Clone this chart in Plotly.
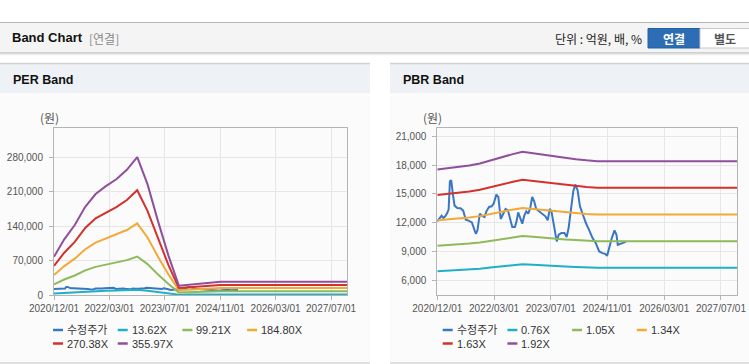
import plotly.graph_objects as go
import pandas as pd

W, H = 749, 364

# ---------------- data ----------------
x_tick_labels = ["2020/12/01", "2022/03/01", "2023/07/01", "2024/11/01", "2026/03/01", "2027/07/01"]
x_start, x_end = "2020-12-01", "2027-12-15"

per_names = ["수정주가", "13.62X", "99.21X", "184.80X", "270.38X", "355.97X"]
pbr_names = ["수정주가", "0.76X", "1.05X", "1.34X", "1.63X", "1.92X"]

per_dates = ["2020-12-01", "2021-03-01", "2021-06-01", "2021-09-01", "2021-12-01", "2022-03-01",
             "2022-06-01", "2022-09-01", "2022-12-01", "2023-03-01", "2023-06-01", "2023-09-01",
             "2023-12-01", "2024-03-01", "2024-06-01", "2024-09-01", "2024-12-01", "2027-12-15"]
per_13_62 = [2977, 4323, 5433, 6850, 7844, 8455, 8992, 9718, 10714, 8609, 5739, 3060, 727, 817, 899, 981, 1035, 1035]
per_99_21 = [21687, 31489, 39575, 49892, 57135, 61590, 65498, 70786, 78038, 62711, 41807, 22293, 5298, 5953, 6548, 7143, 7540, 7540]
per_184_80 = [40397, 58656, 73717, 92936, 106426, 114724, 122005, 131855, 145364, 116812, 77875, 41525, 9868, 11088, 12197, 13306, 14045, 14045]
per_270_38 = [59104, 85818, 107855, 135972, 155711, 167852, 178505, 192916, 212681, 170907, 113938, 60754, 14438, 16223, 17845, 19467, 20549, 20549]
per_355_97 = [77800, 113000, 142000, 179000, 205000, 221000, 235000, 254000, 280000, 225000, 150000, 80000, 19000, 21358, 23494, 25630, 27054, 27054]

pbr_dates = ["2020-12-01", "2021-03-01", "2021-06-01", "2021-09-01", "2021-12-01", "2022-03-01",
             "2022-06-01", "2022-09-01", "2022-12-01", "2023-03-01", "2023-06-01", "2023-09-01",
             "2023-12-01", "2024-03-01", "2024-06-01", "2024-09-01", "2027-12-15"]
pbr_0_76 = [6947, 6994, 7050, 7109, 7196, 7327, 7450, 7573, 7679, 7620, 7537, 7473, 7422, 7374, 7327, 7291, 7291]
pbr_1_05 = [9598, 9663, 9740, 9822, 9942, 10123, 10292, 10462, 10609, 10527, 10413, 10325, 10254, 10188, 10123, 10074, 10074]
pbr_1_34 = [12249, 12332, 12430, 12534, 12688, 12919, 13135, 13352, 13539, 13435, 13289, 13176, 13086, 13002, 12919, 12856, 12856]
pbr_1_63 = [14900, 15001, 15120, 15247, 15434, 15715, 15977, 16241, 16470, 16342, 16165, 16028, 15919, 15816, 15715, 15638, 15638]
pbr_1_92 = [17550, 17670, 17810, 17960, 18180, 18510, 18820, 19130, 19400, 19250, 19040, 18880, 18750, 18630, 18510, 18420, 18420]

price_dates = ["2020-12-01", "2020-12-24", "2021-01-07", "2021-01-21", "2021-02-07", "2021-02-24",
               "2021-03-08", "2021-03-19", "2021-03-30", "2021-04-14", "2021-04-28", "2021-05-21",
               "2021-06-18", "2021-07-11", "2021-08-02", "2021-08-25", "2021-09-23", "2021-10-10",
               "2021-10-27", "2021-11-10", "2021-11-30", "2021-12-17", "2022-01-09", "2022-01-26",
               "2022-02-17", "2022-03-12", "2022-03-29", "2022-04-21", "2022-05-08", "2022-05-28",
               "2022-06-17", "2022-07-09", "2022-07-29", "2022-08-18", "2022-09-04", "2022-09-27",
               "2022-10-11", "2022-10-25", "2022-11-11", "2022-11-29", "2022-12-16", "2023-01-02",
               "2023-01-19", "2023-02-05", "2023-02-22", "2023-03-11", "2023-03-28", "2023-04-25",
               "2023-05-24", "2023-06-15", "2023-07-05", "2023-07-22", "2023-08-06", "2023-08-31",
               "2023-09-20", "2023-10-07", "2023-10-30", "2023-11-25", "2023-12-14", "2023-12-31",
               "2024-01-20", "2024-02-09", "2024-02-26", "2024-03-17", "2024-04-06", "2024-04-29",
               "2024-05-27", "2024-06-25", "2024-07-23", "2024-08-20", "2024-09-18", "2024-10-16",
               "2024-11-08", "2024-11-25", "2024-12-12", "2025-01-04", "2025-01-27", "2025-02-13",
               "2025-02-24", "2025-03-13", "2025-04-05", "2025-05-03"]
price_values = [12142, 12491, 12736, 12491, 12666, 13015, 13364, 16330, 16435, 14934, 13783, 13538,
                13504, 13259, 12317, 12212, 12038, 11444, 10851, 11200, 12945, 12736, 12596, 13189,
                13643, 13713, 13992, 14934, 14690, 12387, 12910, 13434, 13294, 12491, 11549, 11549,
                12142, 13085, 12561, 11898, 12736, 13189, 12945, 13538, 14690, 14236, 13434, 13189,
                12945, 12666, 12247, 13434, 13189, 11619, 10048, 10746, 10921, 10921, 10502, 11444,
                13364, 15283, 15981, 15388, 13713, 12840, 11968, 11200, 10397, 9874, 9001, 8827,
                8757, 8548, 9455, 10397, 11200, 10746, 9699, 9804, 9874, 10014]

per_y_ticks = [0, 70000, 140000, 210000, 280000]
per_y_range = [0, 339000]
pbr_y_ticks = [6000, 9000, 12000, 15000, 18000, 21000]
pbr_y_range = [4460, 21880]

colors = ["#3a76c4", "#1fb0c6", "#8fba5a", "#f4a937", "#d3312b", "#8f4f9b"]

# ---------------- helpers ----------------
def px(x):
    return x / W


def py(y):
    return 1 - y / H


FONT = "Liberation Sans, Arial, Noto Sans CJK KR, sans-serif"
KFONT = "Noto Sans CJK KR, Liberation Sans, sans-serif"

fig = go.Figure()

per_series = [per_13_62, per_99_21, per_184_80, per_270_38, per_355_97]
pbr_series = [pbr_0_76, pbr_1_05, pbr_1_34, pbr_1_63, pbr_1_92]

fig.add_trace(go.Scatter(x=price_dates, y=price_values, name=per_names[0], mode="lines",
                         line=dict(color=colors[0], width=2), xaxis="x", yaxis="y"))
for i, vals in enumerate(per_series):
    fig.add_trace(go.Scatter(x=per_dates, y=vals, name=per_names[i + 1], mode="lines",
                             line=dict(color=colors[i + 1], width=2), xaxis="x", yaxis="y"))

fig.add_trace(go.Scatter(x=price_dates, y=price_values, name=pbr_names[0], mode="lines",
                         line=dict(color=colors[0], width=2), xaxis="x2", yaxis="y2"))
for i, vals in enumerate(pbr_series):
    fig.add_trace(go.Scatter(x=pbr_dates, y=vals, name=pbr_names[i + 1], mode="lines",
                             line=dict(color=colors[i + 1], width=2), xaxis="x2", yaxis="y2"))

tick_pos = pd.date_range(x_start, periods=len(x_tick_labels), freq="486D")

ydom = [py(295), py(128)]
axis_common = dict(showline=True, mirror=True, linecolor="#b4b4b4", linewidth=1,
                   showgrid=True, gridcolor="#e6e6e6", gridwidth=1, zeroline=False,
                   automargin=False,
                   ticks="outside", ticklen=4, tickcolor="#b4b4b4",
                   tickfont=dict(family=FONT, size=10, color="#555555"))

fig.update_layout(
    template="none",
    width=W, height=H,
    autosize=False,
    margin=dict(l=0, r=0, t=0, b=0, pad=0),
    paper_bgcolor="#ffffff",
    plot_bgcolor="rgba(0,0,0,0)",
    showlegend=False,
    xaxis=dict(domain=[px(54), px(347)], anchor="y", type="date", range=[x_start, x_end],
               tickvals=list(tick_pos), ticktext=x_tick_labels, **axis_common),
    yaxis=dict(domain=ydom, anchor="x", range=per_y_range, tickvals=per_y_ticks,
               tickformat=",d", ticklabelstandoff=4, **axis_common),
    xaxis2=dict(domain=[px(437.3), px(737.3)], anchor="y2", type="date", range=[x_start, x_end],
                tickvals=list(tick_pos), ticktext=x_tick_labels, **axis_common),
    yaxis2=dict(domain=ydom, anchor="x2", range=pbr_y_range, tickvals=pbr_y_ticks,
                tickformat=",d", ticklabelstandoff=4, **axis_common),
)

shapes = []
# header bar
shapes.append(dict(type="rect", xref="paper", yref="paper", x0=0, x1=1, y0=py(53), y1=py(22.5),
                   fillcolor="#f4f4f4", line=dict(width=0), layer="below"))
shapes.append(dict(type="line", xref="paper", yref="paper", x0=0, x1=1, y0=py(22.5), y1=py(22.5),
                   line=dict(color="#b8b8b8", width=1), layer="below"))
shapes.append(dict(type="line", xref="paper", yref="paper", x0=0, x1=1, y0=py(53), y1=py(53),
                   line=dict(color="#c6c6c6", width=1.5), layer="below"))
shapes.append(dict(type="line", xref="paper", yref="paper", x0=0, x1=1, y0=py(54.5), y1=py(54.5),
                   line=dict(color="#ececec", width=1.5), layer="below"))
# buttons
shapes.append(dict(type="rect", xref="paper", yref="paper", x0=px(648), x1=px(700), y0=py(48), y1=py(28.5),
                   fillcolor="#2d6db4", line=dict(color="#24609f", width=1), layer="below"))
shapes.append(dict(type="rect", xref="paper", yref="paper", x0=px(700), x1=px(749.5), y0=py(48), y1=py(28.5),
                   fillcolor="#ffffff", line=dict(color="#c8c8c8", width=1), layer="below"))
# panels
for (xa, xb) in [(0, 370), (390, 749)]:
    shapes.append(dict(type="rect", xref="paper", yref="paper", x0=px(xa), x1=px(xb), y0=py(363), y1=py(93),
                       fillcolor="#fbfbfb", line=dict(width=0), layer="below"))
    shapes.append(dict(type="rect", xref="paper", yref="paper", x0=px(xa), x1=px(xb), y0=py(93), y1=py(64),
                       fillcolor="#eef1f6", line=dict(width=0), layer="below"))
    shapes.append(dict(type="line", xref="paper", yref="paper", x0=px(xa), x1=px(xb), y0=py(63.5), y1=py(63.5),
                       line=dict(color="#d2d2d2", width=1.5), layer="below"))
    shapes.append(dict(type="line", xref="paper", yref="paper", x0=px(xa), x1=px(xb), y0=py(363), y1=py(363),
                       line=dict(color="#d5d5d5", width=1.5), layer="below"))

annotations = []


def text(x, y, s, size=12, color="#222222", bold=False, family=FONT, xanchor="left"):
    if bold:
        s = "<b>" + s + "</b>"
    annotations.append(dict(x=px(x), y=py(y), xref="paper", yref="paper", text=s, showarrow=False,
                            xanchor=xanchor, yanchor="middle", font=dict(family=family, size=size, color=color)))


text(10, 38, "Band Chart", size=13, color="#111111", bold=True)
text(87, 38.5, "[연결]", size=12, color="#8a8a8a", family=KFONT)
text(644, 38.5, "단위 : 억원, 배, %", size=12, color="#222222", family=KFONT, xanchor="right")
text(674, 38.5, "연결", size=12, color="#ffffff", bold=True, family=KFONT, xanchor="center")
text(724.5, 38.5, "별도", size=12, color="#555555", bold=True, family=KFONT, xanchor="center")
text(11, 80, "PER Band", size=12.5, color="#111111", bold=True)
text(401, 80, "PBR Band", size=12.5, color="#111111", bold=True)
text(38, 118, "(원)", size=12, color="#555555", family=KFONT)
text(421, 118, "(원)", size=12, color="#555555", family=KFONT)


# manual legends (two rows of four slots)
def legend(names, x0, slot=64.7):
    rows_y = [330, 343.5]
    for i, name in enumerate(names):
        r, c = divmod(i, 4)
        xs = x0 + c * slot
        yy = rows_y[r]
        shapes.append(dict(type="line", xref="paper", yref="paper", x0=px(xs), x1=px(xs + 10),
                           y0=py(yy), y1=py(yy), line=dict(color=colors[i], width=2.5)))
        text(xs + 12, yy, name, size=11, color="#333333")


legend(per_names, 53)
legend(pbr_names, 442.7)

fig.update_layout(shapes=shapes, annotations=annotations)

fig.write_html("out.html", config={"displayModeBar": False},
               post_script="document.body.style.margin='0px';document.body.style.overflow='hidden';")
